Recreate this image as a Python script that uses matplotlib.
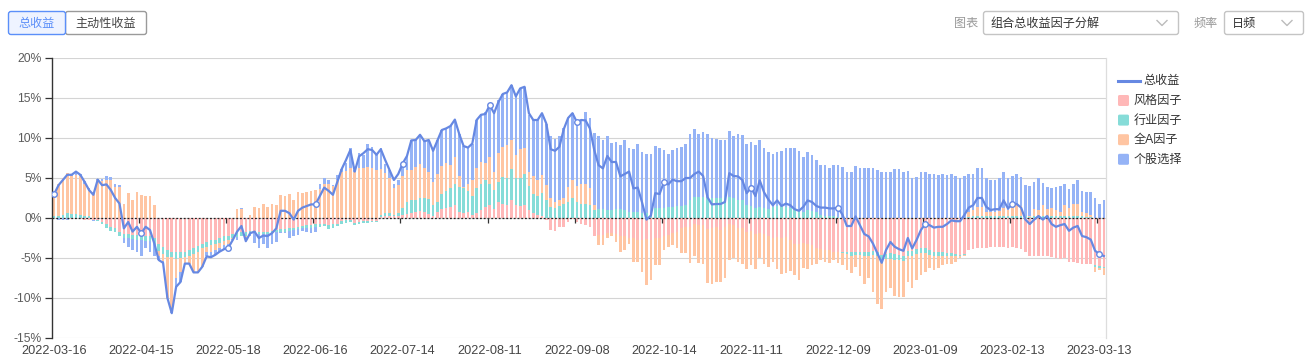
"""
Portfolio total-return factor decomposition (daily), 2022-03-16 .. 2023-03-14.
Stacked bars per factor (positives and negatives stacked separately) + total return line.
"""
import matplotlib
matplotlib.use("Agg")
import matplotlib.pyplot as plt
import numpy as np
import pandas as pd
from matplotlib.lines import Line2D
from matplotlib.patches import FancyBboxPatch
from matplotlib.transforms import Affine2D

plt.rcParams["font.family"] = ["Liberation Sans", "Noto Sans CJK SC", "DejaVu Sans"]

# ── data (%, one value per trading day) ───────────────────────────────────────
HOLIDAYS = ["2022-04-04", "2022-04-05", "2022-05-02", "2022-05-03", "2022-05-04",
            "2022-06-03", "2022-09-12", "2022-10-03", "2022-10-04", "2022-10-05",
            "2022-10-06", "2022-10-07", "2023-01-02", "2023-01-23", "2023-01-24",
            "2023-01-25", "2023-01-26", "2023-01-27"]
dates = pd.bdate_range("2022-03-16", periods=242, freq="C",
                       holidays=HOLIDAYS).strftime("%Y-%m-%d")

series_names = ["风格因子", "行业因子", "全A因子", "个股选择"]
line_name = "总收益"

style = [
    -0.05, -0.05, -0.05, -0.05, -0.1, -0.1, -0.1, -0.2, -0.2, -0.25,
    -0.3, -0.5, -0.8, -1.1, -1.3, -1.8, -2.0, -2.0, -2.1, -2.1,
    -2.1, -2.3, -2.3, -2.5, -3.3, -3.6, -4.0, -4.2, -4.3, -4.3,
    -4.2, -4.0, -3.8, -3.5, -3.2, -3.0, -2.8, -2.7, -2.5, -2.3,
    -2.2, -2.0, -1.9, -1.8, -1.7, -1.6, -1.6, -1.7, -1.7, -1.7,
    -1.6, -1.5, -1.4, -1.4, -1.3, -1.2, -1.1, -1.0, -0.9, -0.9,
    -0.8, -0.8, -0.7, -0.9, -0.8, -0.7, -0.4, -0.3, -0.25, -0.6,
    -0.5, -0.4, -0.4, -0.4, -0.4, 0.1, 0.2, 0.2, 0.2, 0.3,
    0.4, 0.5, 0.6, 0.7, 0.9, 0.8, 0.5, 0.2, 0.7, 1.1,
    1.2, 1.4, 1.6, 0.8, 0.6, 0.8, 0.4, 0.6, 1.0, 1.4,
    1.6, 1.1, 2.0, 1.8, 1.6, 2.25, 1.6, 1.5, 1.6, 1.0,
    0.6, 0.4, 0.2, -0.2, -1.5, -1.6, -1.1, -1.1, -0.45, -0.1,
    -0.45, -0.75, -0.9, -1.1, -2.3, -2.1, -2.1, -1.9, -1.9, -2.0,
    -2.3, -2.3, -2.5, -2.5, -2.75, -2.75, -2.65, -2.75, -2.5, -2.5,
    -2.3, -2.1, -1.9, -1.7, -1.3, -1.1, -1.1, -0.7, -0.9, -0.9,
    -1.4, -1.3, -1.1, -1.5, -1.1, -0.7, -0.9, -1.3, -1.2, -1.7,
    -1.6, -2.0, -1.9, -2.0, -2.25, -2.5, -2.4, -2.5, -2.4, -2.8,
    -3.2, -3.2, -3.1, -3.2, -3.4, -3.7, -3.9, -4.0, -4.0, -4.2,
    -4.2, -4.3, -4.2, -4.3, -4.3, -4.2, -4.2, -4.2, -4.1, -4.3,
    -4.6, -4.5, -4.4, -4.5, -4.6, -4.7, -4.1, -4.1, -3.9, -3.8,
    -3.7, -4.0, -4.2, -4.2, -4.3, -4.4, -4.4, -4.5, -4.6, -4.5,
    -4.0, -3.9, -3.8, -3.7, -3.7, -3.6, -3.6, -3.6, -3.65, -3.7,
    -3.65, -3.7, -3.9, -4.3, -4.75, -4.75, -4.75, -4.75, -4.8, -4.9,
    -5.0, -5.1, -5.0, -5.5, -5.5, -5.6, -5.7, -5.75, -5.75, -5.9,
    -6.0, -6.1,
]
industry = [
    0.2, 0.3, 0.4, 0.6, 0.5, 0.5, 0.4, 0.3, 0.2, 0.05,
    -0.1, -0.3, -0.4, -0.5, -0.5, -0.5, -0.5, -0.5, -0.5, -0.6,
    -0.6, -0.6, -0.6, -0.7, -0.8, -0.9, -0.9, -0.7, -0.8, -0.7,
    -0.7, -0.7, -0.7, -0.7, -0.6, -0.6, -0.6, -0.6, -0.6, -0.6,
    -0.6, -0.5, -0.5, -0.5, -0.5, -0.4, -0.3, -0.3, -0.3, -0.3,
    -0.3, -0.3, -0.3, -0.3, -0.3, -0.3, -0.3, -0.3, -0.3, -0.3,
    -0.3, -0.3, -0.3, -0.5, -0.5, -0.3, -0.3, -0.3, -0.2, -0.3,
    -0.3, -0.2, -0.2, -0.1, -0.1, 0.3, 0.4, 0.4, 0.2, 0.3,
    0.9, 1.5, 1.65, 1.55, 1.6, 1.7, 1.9, 1.4, 1.3, 1.9,
    2.2, 2.3, 2.7, 3.1, 3.1, 2.6, 2.35, 3.2, 3.3, 3.4,
    2.7, 2.4, 2.5, 3.3, 3.4, 3.85, 3.4, 3.5, 3.9, 3.0,
    2.4, 2.3, 2.9, 2.2, 1.4, 1.3, 1.5, 1.8, 2.0, 2.5,
    2.0, 1.8, 1.75, 1.6, 1.0, 1.1, 1.1, 1.0, 1.0, 1.1,
    1.1, 1.0, 0.8, 0.8, 0.7, 0.6, 0.6, 0.5, 1.2, 1.3,
    1.3, 1.4, 1.4, 1.5, 1.5, 1.6, 2.25, 2.6, 2.6, 2.6,
    2.5, 2.5, 2.5, 2.5, 2.6, 2.6, 2.5, 2.3, 2.3, 1.6,
    1.5, 1.3, 1.4, 1.3, 1.1, 1.4, 1.5, 1.5, 1.4, 1.2,
    1.1, 1.0, 0.8, 1.0, 0.9, 0.7, 0.4, 0.25, 0.25, 0.2,
    0.1, -0.1, -0.3, -0.4, -0.3, -0.4, -0.5, -0.5, -0.5, -0.5,
    -0.6, -0.6, -0.7, -0.7, -0.7, -0.7, -0.6, -0.6, -0.6, -0.6,
    -0.7, -0.6, -0.5, -0.5, -0.5, -0.4, -0.4, -0.3, -0.2, -0.1,
    0.1, 0.2, 0.2, 0.2, 0.2, 0.2, 0.2, 0.3, 0.3, 0.3,
    0.3, 0.3, 0.3, 0.2, 0.1, 0.2, 0.2, 0.3, 0.2, 0.3,
    0.2, 0.3, 0.2, 0.3, 0.3, 0.2, 0.2, 0.1, 0.1, -0.2,
    -0.2, -0.2,
]
all_a = [
    2.8, 4.0, 4.6, 5.0, 4.8, 4.9, 4.9, 4.0, 3.4, 3.2,
    4.8, 4.6, 4.8, 4.8, 3.9, 3.9, 1.8, 3.1, 2.3, 3.2,
    2.9, 2.7, 2.7, 1.6, -0.6, -0.9, -5.1, -6.8, -2.4, -1.8,
    -0.7, -1.0, -2.3, -2.6, -2.3, -0.7, -0.8, -0.7, -0.6, -0.5,
    -0.4, -0.1, 1.1, 1.1, -0.2, 0.4, 1.4, 1.2, 1.75, 1.4,
    1.8, 1.6, 2.9, 2.7, 3.0, 2.2, 3.2, 3.1, 3.3, 3.4,
    3.5, 3.6, 4.2, 4.3, 4.0, 4.8, 5.8, 5.9, 6.3, 5.8,
    6.2, 6.2, 6.4, 6.3, 6.0, 5.7, 5.0, 4.4, 3.3, 3.5,
    3.9, 4.0, 3.75, 4.15, 4.3, 3.7, 3.4, 2.9, 3.5, 3.5,
    3.5, 2.9, 3.3, 1.3, 0.2, 0.9, 2.0, 2.4, 2.7, 2.1,
    3.3, 2.3, 3.6, 3.8, 4.1, 3.6, 2.9, 3.6, 3.2, 1.8,
    2.25, 2.1, 2.3, 1.9, 1.1, 0.7, 0.75, 0.7, 1.9, 2.25,
    2.0, 2.5, 2.55, 2.1, 0.6, -1.3, -1.3, -0.6, -0.4, -1.0,
    -1.9, -1.7, -0.7, -3.0, -2.75, -3.95, -5.75, -4.95, -3.4, -3.4,
    -1.7, -1.5, -1.5, -2.1, -3.1, -3.3, -4.5, -4.05, -4.7, -4.8,
    -6.7, -6.9, -6.9, -6.5, -6.4, -4.6, -4.1, -4.2, -4.5, -4.7,
    -4.3, -4.4, -3.1, -3.75, -3.85, -3.0, -4.0, -4.5, -4.5, -3.8,
    -3.9, -4.55, -3.2, -3.2, -2.5, -2.05, -1.4, -1.5, -1.6, -1.0,
    -1.4, -1.5, -2.0, -2.2, -1.5, -2.65, -3.55, -2.8, -4.7, -5.9,
    -6.2, -4.1, -3.7, -4.6, -4.6, -4.5, -3.3, -4.1, -3.3, -2.7,
    -2.3, -1.7, -1.8, -1.6, -1.1, -0.9, -0.9, -0.7, -0.2, -0.2,
    0.6, 0.8, 1.2, 1.2, 0.6, 0.5, 0.6, 0.6, 1.0, 0.7,
    1.3, 1.4, 1.2, 0.1, 0.1, 0.9, 0.8, 1.3, 0.9, 1.0,
    0.8, 0.4, 1.4, 1.0, 1.5, 1.6, 0.6, 0.5, 0.3, -0.6,
    -0.3, -0.8,
]
stock = [
    0.05, -0.15, -0.2, -0.15, 0.2, 0.4, 0.2, 0.3, 0.1, -0.1,
    0.1, 0.3, 0.5, 0.3, 0.4, 0.2, -0.6, -1.1, -1.4, -1.6,
    -2.1, -0.9, -1.3, -1.6, -0.55, -0.2, 0.0, -0.2, -1.1, -1.2,
    -0.1, 0.0, 0.0, 0.0, 0.0, -0.5, -0.7, -0.6, -0.5, -0.5,
    -0.5, -0.15, -0.4, 0.2, -0.5, -0.3, -1.2, -1.7, -1.2, -1.8,
    -1.3, -1.2, -0.2, -0.2, -0.9, -0.8, -0.7, -0.3, -0.5, -0.7,
    -0.7, 0.7, 0.75, 0.45, 0.1, 0.6, 0.3, 1.0, 2.4, 0.2,
    1.9, 1.7, 2.85, 2.6, 2.1, 2.6, 1.15, 1.0, 0.6, 0.65,
    1.2, 1.75, 3.7, 3.35, 3.6, 3.4, 3.95, 3.9, 4.2, 4.5,
    4.3, 4.9, 4.7, 5.3, 5.1, 4.5, 4.55, 6.05, 5.9, 6.3,
    6.5, 7.3, 6.65, 6.6, 6.6, 6.9, 7.3, 7.6, 7.7, 7.1,
    7.0, 7.45, 7.7, 7.7, 7.7, 7.9, 7.95, 8.7, 8.6, 8.35,
    8.25, 8.0, 8.9, 8.8, 9.0, 9.1, 8.65, 9.25, 8.4, 8.4,
    8.0, 8.7, 8.0, 7.8, 8.55, 7.6, 7.4, 7.5, 7.8, 7.5,
    7.2, 6.6, 7.1, 7.2, 7.4, 7.7, 8.25, 8.5, 7.9, 8.2,
    8.0, 7.5, 7.4, 7.3, 7.2, 8.3, 7.75, 8.2, 8.1, 7.7,
    8.0, 7.8, 8.3, 7.4, 7.1, 6.6, 6.7, 6.9, 7.3, 7.6,
    7.7, 7.4, 6.8, 7.3, 7.0, 6.6, 6.2, 6.35, 6.05, 6.4,
    6.5, 6.4, 5.7, 5.8, 6.5, 6.2, 6.2, 6.3, 6.2, 6.0,
    5.8, 5.7, 5.8, 6.1, 6.1, 5.8, 5.9, 5.0, 5.1, 5.8,
    5.7, 5.5, 5.5, 5.4, 5.5, 5.4, 5.5, 5.2, 5.0, 5.2,
    4.8, 4.5, 4.8, 4.9, 4.2, 4.0, 3.9, 4.1, 4.4, 4.0,
    3.6, 3.8, 3.6, 3.8, 3.8, 3.4, 4.0, 2.8, 2.8, 2.4,
    2.9, 3.3, 2.7, 2.3, 2.5, 2.9, 2.6, 2.7, 2.8, 2.5,
    1.75, 2.25,
]
total = [
    3.0, 4.1, 4.75, 5.4, 5.4, 5.8, 5.4, 4.5, 3.5, 2.9,
    4.8, 4.1, 4.2, 3.5, 2.5, 1.8, -1.3, -0.5, -1.7, -1.1,
    -1.9, -1.1, -1.5, -3.2, -5.25, -5.6, -10.0, -11.9, -8.6, -8.0,
    -5.7, -5.7, -6.8, -6.8, -6.1, -4.8, -4.9, -4.6, -4.2, -3.9,
    -3.7, -2.75, -1.7, -1.0, -2.9, -1.9, -1.7, -2.5, -2.2, -2.25,
    -1.9, -1.3, 0.9, 0.9, 0.6, -0.2, 0.9, 1.3, 1.5, 1.7,
    1.7, 2.75, 3.8, 3.4, 2.9, 4.5, 6.1, 7.25, 8.5, 5.8,
    7.7, 8.1, 8.6, 8.5, 7.9, 8.6, 7.25, 6.0, 4.75, 5.5,
    6.8, 7.75, 9.7, 9.75, 10.4, 9.6, 9.75, 8.4, 9.7, 11.0,
    11.2, 11.5, 12.3, 10.5, 9.0, 8.8, 9.3, 12.25, 12.9, 13.0,
    14.1, 13.1, 14.5, 15.5, 15.7, 16.6, 15.2, 16.2, 16.4, 13.1,
    12.25, 12.25, 13.1, 11.8, 8.6, 8.4, 8.9, 11.1, 12.5, 13.1,
    12.0, 12.25, 12.2, 11.2, 8.5, 6.6, 6.2, 7.75, 7.0, 7.0,
    5.2, 5.5, 5.8, 3.7, 3.8, 1.9, -0.2, 0.3, 3.1, 3.0,
    4.5, 4.2, 4.8, 4.6, 4.6, 5.0, 5.0, 5.5, 5.8, 5.25,
    2.6, 1.7, 1.75, 1.75, 2.0, 5.6, 5.25, 5.2, 4.75, 3.1,
    3.8, 2.75, 4.7, 3.2, 2.3, 1.6, 2.2, 1.5, 1.8, 1.6,
    1.1, 0.9, 1.4, 2.2, 2.0, 1.5, 1.3, 1.3, 1.2, 1.2,
    1.3, 0.4, -1.0, -1.0, 0.2, -0.9, -2.0, -2.3, -3.2, -4.4,
    -5.6, -4.0, -3.0, -3.6, -3.9, -4.1, -2.5, -3.8, -2.75, -1.5,
    -0.75, -0.9, -1.2, -1.1, -1.1, -0.75, -0.3, -0.4, -0.4, 0.4,
    1.3, 1.6, 2.5, 2.5, 1.4, 1.0, 1.1, 1.1, 2.2, 1.2,
    1.7, 1.75, 1.3, -0.2, -0.75, -0.2, 0.25, -0.2, 0.25, -0.75,
    -1.1, -0.9, -0.75, -1.6, -1.2, -1.0, -2.25, -2.4, -2.7, -4.1,
    -4.5, -4.75,
]

BAR_COLORS = ["#FFB8B8", "#86DCD8", "#FFC5A2", "#95B3F6"]
LINE_COLOR = "#6688E2"
LABEL_EVERY = 20

# ── figure / pixel helpers ────────────────────────────────────────────────────
W, H = 1316, 363
fig = plt.figure(figsize=(W / 100, H / 100), dpi=100)
PX = Affine2D().scale(1 / W, -1 / H).translate(0, 1) + fig.transFigure  # px from top-left

ax = fig.add_axes([52 / W, 1 - 338 / H, 1054 / W, 280 / H])
x = np.arange(len(dates))

# stacked bars, ECharts-style: positives stack up, negatives stack down
pos = np.zeros(len(x))
neg = np.zeros(len(x))
for vals, color in zip([style, industry, all_a, stock], BAR_COLORS):
    v = np.asarray(vals, dtype=float)
    base = np.where(v >= 0, pos, neg)
    ax.bar(x, v, 0.6, bottom=base, color=color, linewidth=0, zorder=2)
    pos += np.clip(v, 0, None)
    neg += np.clip(v, None, 0)

tot = np.asarray(total)
ax.plot(x, tot, color=LINE_COLOR, lw=1.6, zorder=4, solid_joinstyle="round")
ax.plot(x[::LABEL_EVERY], tot[::LABEL_EVERY], "o", ms=4.0, mfc="white",
        mec=LINE_COLOR, mew=1.0, zorder=5)

# axes cosmetics
ax.set_xlim(-0.5, len(x) - 0.5)
ax.set_ylim(-15, 20)
ax.set_yticks(range(-15, 21, 5))
ax.set_yticklabels([f"{t}%" for t in range(-15, 21, 5)])
ax.yaxis.grid(True, color="#d4d4d4", lw=0.8)
ax.set_axisbelow(True)
ax.tick_params(axis="y", length=5, width=0.9, color="#333333", pad=2.5,
               labelsize=8.7, labelcolor="#5c5c5c")
ax.set_xticks(x[::LABEL_EVERY])
ax.set_xticklabels(dates[::LABEL_EVERY])
ax.tick_params(axis="x", length=0, pad=5, labelsize=9.2, labelcolor="#444444")
for s in ("top", "bottom"):
    ax.spines[s].set_visible(False)
ax.spines["left"].set_color("#333333")
ax.spines["left"].set_linewidth(1.0)
ax.spines["right"].set_color("#dddddd")
ax.spines["right"].set_linewidth(0.9)

# category axis sitting on zero: dotted line + ticks on category boundaries
ax.axhline(0, color="#222222", lw=0.9, ls=(0, (1.5, 1.5)), zorder=3)
ax.vlines(x[LABEL_EVERY::LABEL_EVERY] - 0.5, -0.6, 0, color="#333333", lw=0.9, zorder=3)

# ── legend (drawn by hand, ECharts layout) ───────────────────────────────────
fig.add_artist(Line2D([1118, 1140], [80.5, 80.5], transform=PX, color=LINE_COLOR, lw=2.2))
fig.text(1143, 81, line_name, transform=PX, va="center", fontsize=8.7, color="#333333")
for k, (name, color) in enumerate(zip(series_names, BAR_COLORS)):
    yc = 100.5 + 19.6 * k
    fig.add_artist(FancyBboxPatch((1118, yc - 5.5), 11, 11, transform=PX,
                                  boxstyle="round,pad=0,rounding_size=1.5",
                                  fc=color, ec="none"))
    fig.text(1134, yc + 0.5, name, transform=PX, va="center", fontsize=8.7, color="#333333")

# ── toolbar widgets ──────────────────────────────────────────────────────────
def box(x0, y0, w, h, ec, fc="white"):
    fig.add_artist(FancyBboxPatch((x0, y0), w, h, transform=PX,
                                  boxstyle="round,pad=0,rounding_size=2.5",
                                  fc=fc, ec=ec, lw=1.0))

def chevron(xc, yc):
    fig.add_artist(Line2D([xc - 5, xc, xc + 5], [yc - 2.5, yc + 2.5, yc - 2.5],
                          transform=PX, color="#bbbbbb", lw=1.0))

box(65.5, 11.5, 81, 23, "#9a9a9a")
box(8.5, 11.5, 57, 23, "#5b8ff9", fc="#eef3ff")
fig.text(37, 23.5, "总收益", transform=PX, ha="center", va="center", fontsize=8.7, color="#5b8ff9")
fig.text(106, 23.5, "主动性收益", transform=PX, ha="center", va="center", fontsize=8.7, color="#444444")

fig.text(966, 23.5, "图表", transform=PX, ha="center", va="center", fontsize=8.7, color="#999999")
box(983.5, 11.5, 195, 23, "#c4c4c4")
fig.text(990, 23.5, "组合总收益因子分解", transform=PX, va="center", fontsize=8.7, color="#333333")
chevron(1162, 23)

fig.text(1206, 23.5, "频率", transform=PX, ha="center", va="center", fontsize=8.7, color="#999999")
box(1224.5, 11.5, 79, 23, "#c4c4c4")
fig.text(1232, 23.5, "日频", transform=PX, va="center", fontsize=8.7, color="#333333")
chevron(1287, 23)

fig.savefig("out.png", dpi=100)
